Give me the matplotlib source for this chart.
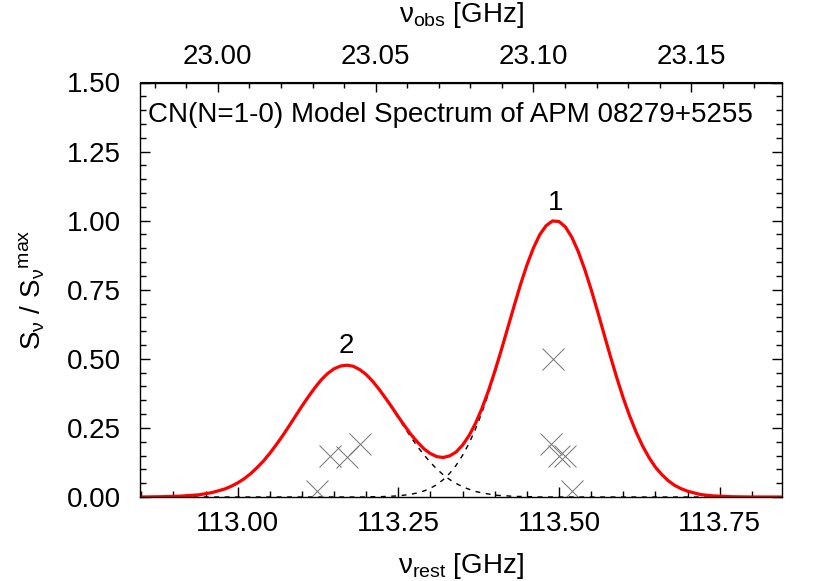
import matplotlib
matplotlib.use('Agg')
import matplotlib.pyplot as plt
import matplotlib.ticker as mtick

plt.rcParams['font.family'] = ['Liberation Sans', 'DejaVu Sans']
plt.rcParams['mathtext.fontset'] = 'custom'
plt.rcParams['mathtext.rm'] = 'Liberation Sans'
plt.rcParams['mathtext.it'] = 'Liberation Sans:italic'

# redshift used for the observed-frequency axis
redshift = 3.9117

# rest frequency grid [GHz]
rest_ghz = [112.85, 112.88, 112.91, 112.94, 112.96, 112.98, 112.99, 113.00, 113.01, 113.02,
            113.03, 113.04, 113.05, 113.06, 113.07, 113.08, 113.09, 113.10, 113.11, 113.12,
            113.13, 113.14, 113.15, 113.16, 113.17, 113.18, 113.19, 113.20, 113.21, 113.22,
            113.23, 113.24, 113.25, 113.26, 113.27, 113.28, 113.29, 113.30, 113.31, 113.32,
            113.33, 113.34, 113.35, 113.36, 113.37, 113.38, 113.39, 113.40, 113.41, 113.42,
            113.43, 113.44, 113.45, 113.46, 113.47, 113.48, 113.49, 113.50, 113.51, 113.52,
            113.53, 113.54, 113.55, 113.56, 113.57, 113.58, 113.59, 113.60, 113.61, 113.62,
            113.63, 113.64, 113.65, 113.66, 113.67, 113.68, 113.69, 113.70, 113.72, 113.74,
            113.77, 113.80, 113.85]

# total model spectrum (red)
modelo_total = [0.000, 0.001, 0.003, 0.008, 0.016, 0.029, 0.039, 0.051, 0.066, 0.084,
                0.106, 0.130, 0.158, 0.189, 0.222, 0.257, 0.293, 0.329, 0.363, 0.395,
                0.424, 0.447, 0.464, 0.474, 0.477, 0.473, 0.461, 0.443, 0.419, 0.390,
                0.358, 0.325, 0.290, 0.257, 0.225, 0.198, 0.174, 0.157, 0.146, 0.143,
                0.149, 0.163, 0.188, 0.222, 0.266, 0.320, 0.383, 0.454, 0.530, 0.610,
                0.690, 0.768, 0.839, 0.900, 0.949, 0.982, 0.999, 0.997, 0.977, 0.940,
                0.888, 0.824, 0.751, 0.672, 0.590, 0.509, 0.431, 0.358, 0.293, 0.235,
                0.185, 0.143, 0.108, 0.081, 0.059, 0.042, 0.030, 0.021, 0.009, 0.004,
                0.001, 0.000, 0.000]

# J=1/2-1/2 group (line 2), dashed
grupo_2 = [0.000, 0.001, 0.003, 0.008, 0.016, 0.029, 0.039, 0.051, 0.066, 0.084,
           0.106, 0.130, 0.158, 0.189, 0.222, 0.257, 0.293, 0.329, 0.363, 0.395,
           0.424, 0.447, 0.464, 0.474, 0.477, 0.473, 0.461, 0.443, 0.418, 0.389,
           0.357, 0.322, 0.286, 0.250, 0.215, 0.182, 0.152, 0.125, 0.101, 0.080,
           0.063, 0.049, 0.037, 0.028, 0.020, 0.015, 0.011, 0.007, 0.005, 0.004,
           0.002, 0.002, 0.001, 0.001, 0.000, 0.000, 0.000, 0.000, 0.000, 0.000,
           0.000, 0.000, 0.000, 0.000, 0.000, 0.000, 0.000, 0.000, 0.000, 0.000,
           0.000, 0.000, 0.000, 0.000, 0.000, 0.000, 0.000, 0.000, 0.000, 0.000,
           0.000, 0.000, 0.000]

# J=3/2-1/2 group (line 1), dashed
grupo_1 = [0.000, 0.000, 0.000, 0.000, 0.000, 0.000, 0.000, 0.000, 0.000, 0.000,
           0.000, 0.000, 0.000, 0.000, 0.000, 0.000, 0.000, 0.000, 0.000, 0.000,
           0.000, 0.000, 0.000, 0.000, 0.000, 0.000, 0.000, 0.000, 0.001, 0.001,
           0.002, 0.003, 0.004, 0.007, 0.010, 0.015, 0.022, 0.032, 0.045, 0.063,
           0.086, 0.115, 0.151, 0.194, 0.246, 0.305, 0.373, 0.446, 0.525, 0.607,
           0.688, 0.766, 0.838, 0.900, 0.949, 0.982, 0.999, 0.997, 0.977, 0.940,
           0.888, 0.824, 0.751, 0.672, 0.590, 0.509, 0.431, 0.358, 0.293, 0.235,
           0.185, 0.143, 0.108, 0.081, 0.059, 0.042, 0.030, 0.021, 0.009, 0.004,
           0.001, 0.000, 0.000]

# hyperfine components (crosses)
hfs_freq = [113.123, 113.144, 113.170, 113.191, 113.488, 113.491, 113.500, 113.509, 113.520]
hfs_int = [0.02, 0.15, 0.145, 0.19, 0.19, 0.50, 0.15, 0.15, 0.02]

# labels of the two groups
grupo_labels = ['1', '2']
grupo_label_x = [113.494, 113.169]
grupo_label_y = [1.065, 0.545]

# tick values of the observed-frequency axis
obs_ticks = [23.00, 23.05, 23.10, 23.15]

fs = 20

fig = plt.figure(figsize=(8.3, 5.81), dpi=100)
ax = fig.add_axes([140 / 830, 1 - 497 / 581, 642 / 830, 414.5 / 581])

ax.plot(rest_ghz, grupo_2, color='black', lw=1.0, ls=(0, (3.5, 4)))
ax.plot(rest_ghz, grupo_1, color='black', lw=1.0, ls=(0, (3.5, 4)))
ax.plot(rest_ghz, modelo_total, color='#ff0000', lw=2.3, solid_joinstyle='round')
ax.plot(hfs_freq, hfs_int, ls='none', marker='x', ms=16, mew=0.7, color='0.45')

for lab, lx, ly in zip(grupo_labels, grupo_label_x, grupo_label_y):
    ax.text(lx, ly, lab, ha='center', va='center', fontsize=fs)

ax.text(0.012, 0.921, 'CN(N=1-0) Model Spectrum of APM 08279+5255',
        transform=ax.transAxes, ha='left', va='center', fontsize=fs)

ax.set_xlim(112.848, 113.847)
ax.set_ylim(0, 1.5)

# Eixo inferior: frequência de repouso
ax.xaxis.set_major_locator(mtick.MultipleLocator(0.25))
ax.xaxis.set_minor_locator(mtick.MultipleLocator(0.05))
ax.xaxis.set_major_formatter(mtick.FormatStrFormatter('%.2f'))
ax.yaxis.set_major_locator(mtick.MultipleLocator(0.25))
ax.yaxis.set_minor_locator(mtick.MultipleLocator(0.05))
ax.yaxis.set_major_formatter(mtick.FormatStrFormatter('%.2f'))
ax.tick_params(which='both', direction='in', top=False, right=True, width=1.0)
ax.tick_params(which='major', length=7, labelsize=fs)
ax.tick_params(which='minor', length=4)
ax.tick_params(axis='x', pad=10)
ax.tick_params(axis='y', pad=14)

# Eixo superior: frequência observada
secax = ax.secondary_xaxis('top', functions=(lambda r: r / (1 + redshift),
                                             lambda o: o * (1 + redshift)))
secax.xaxis.set_major_locator(mtick.FixedLocator(obs_ticks))
secax.xaxis.set_minor_locator(mtick.MultipleLocator(0.01))
secax.xaxis.set_major_formatter(mtick.FormatStrFormatter('%.2f'))
secax.tick_params(which='both', direction='in', width=1.0)
secax.tick_params(which='major', length=7, labelsize=fs, pad=9)
secax.tick_params(which='minor', length=4)

ax.set_xlabel(r'ν$_{\mathrm{rest}}$ [GHz]', fontsize=fs, labelpad=10)
secax.set_xlabel(r'ν$_{\mathrm{obs}}$ [GHz]', fontsize=fs, labelpad=16)
ax.set_ylabel(r'S$_{\mathrm{ν}}$ / S$_{\mathrm{ν}}$$^{\mathrm{max}}$', fontsize=fs, labelpad=14)

for s in ax.spines.values():
    s.set_linewidth(1.0)

fig.savefig('out.png', dpi=100)
